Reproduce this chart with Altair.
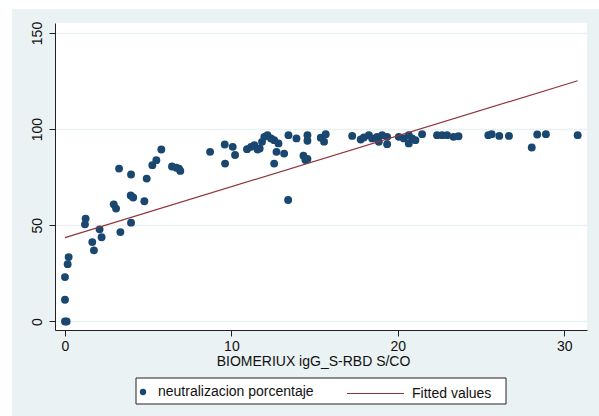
import altair as alt
import pandas as pd

# ---- data ----
x_vals = [0.0, 0.1, 0.0, 0.0, 0.16, 0.22,
          1.24, 1.2, 1.64, 1.74, 2.08, 2.2,
          2.93, 3.07, 3.25, 3.33, 3.97, 3.95, 4.1, 3.97,
          4.77, 4.91, 5.25, 5.49, 5.79,
          6.43, 6.69, 6.93, 6.85,
          8.72, 9.6, 9.62, 10.08, 10.22, 10.94,
          11.18, 11.38, 11.57, 11.7, 11.84, 11.98, 12.17, 12.38, 12.57, 12.83,
          12.71, 13.17, 12.57, 13.43, 13.91, 13.41,
          14.33, 14.57, 14.57, 14.57, 14.45,
          15.37, 15.57, 15.67,
          17.26, 17.77, 17.96, 18.26, 18.46, 18.76, 18.86, 19.06, 19.36, 19.36,
          20.06, 20.36, 20.66, 20.66, 20.86, 21.06, 21.46,
          22.36, 22.66, 22.96, 23.35, 23.65,
          25.44, 25.64, 26.1, 26.68, 28.05, 28.38, 28.9, 30.81]
y_vals = [0, 0, 11.3, 23.1, 29.8, 33.5,
          53.5, 50.5, 41.3, 37.0, 47.9, 43.8,
          60.9, 58.7, 79.5, 46.5, 76.4, 65.5, 64.5, 51.4,
          62.5, 74.3, 81.3, 83.9, 89.4,
          80.6, 80.0, 78.3, 79.5,
          88.2, 92.0, 82.1, 90.8, 86.6, 89.6,
          90.8, 91.7, 89.4, 90.0, 93.4, 96.0, 96.9, 95.2, 94.3, 92.6,
          88.2, 87.3, 82.1, 96.9, 95.2, 63.2,
          86.2, 84.5, 96.9, 94.0, 84.0,
          95.6, 93.5, 97.4,
          96.5, 94.6, 95.7, 96.9, 95.2, 96.0, 93.4, 96.9, 96.0, 92.2,
          96.0, 95.2, 96.9, 92.6, 95.2, 94.3, 97.4,
          96.9, 96.9, 96.9, 96.0, 96.3,
          96.9, 97.4, 96.5, 96.5, 90.5, 97.2, 97.4, 96.9]
fit_x = [0.0, 30.81]
fit_y = [43.6, 125.2]
x_ticks = [0, 10, 20, 30]
y_ticks = [0, 50, 100, 150]
series_pts = "neutralizacion porcentaje"
series_fit = "Fitted values"
x_title = "BIOMERIUX igG_S-RBD S/CO"

pts = pd.DataFrame({"x": x_vals, "y": y_vals, "series": series_pts})
fit = pd.DataFrame({"x": fit_x, "y": fit_y, "series": series_fit})
one = pd.DataFrame({"k": [0]})

W, H = 532, 307
FONT = "Liberation Sans"
BG = "#EAF2F3"
NAVY = "#1a476f"
MAROON = "#90353b"
AX = "#222222"

xs = alt.Scale(domain=[-0.6, 31.37], nice=False, zero=False)
ys = alt.Scale(domain=[-4.42, 155.2], nice=False, zero=False)

x_axis = alt.Axis(values=x_ticks, title=x_title, grid=False, format="d",
                  domainColor=AX, tickColor=AX, tickSize=6, labelFontSize=14,
                  titleFontSize=14, labelFont=FONT, titleFont=FONT,
                  titleFontWeight="normal", labelColor="#111", titleColor="#111",
                  labelPadding=3, titlePadding=1, labelFlush=False,
                  titleX=258, titleAlign="center")
y_axis = alt.Axis(values=y_ticks, title=None, grid=True, gridColor=BG,
                  gridWidth=1.5, gridOpacity=1, format="d",
                  domainColor=AX, tickColor=AX, tickSize=6, labelFontSize=14,
                  labelFont=FONT, labelColor="#111", labelAngle=270,
                  labelAlign="center", labelBaseline="bottom", labelPadding=5,
                  labelFlush=False)

X = alt.X("x:Q", scale=xs, axis=x_axis)
Y = alt.Y("y:Q", scale=ys, axis=y_axis)

# white page margins to the left and above the grey-blue panel
margin_left = alt.Chart(one).mark_rect(fill="white").encode(
    x=alt.value(-55), x2=alt.value(-43), y=alt.value(-23), y2=alt.value(H + 86))
margin_top = alt.Chart(one).mark_rect(fill="white").encode(
    x=alt.value(-55), x2=alt.value(W + 12), y=alt.value(-23), y2=alt.value(-14))

points = alt.Chart(pts).mark_circle(size=62, opacity=1).encode(
    x=X, y=Y,
    color=alt.Color("series:N",
                    scale=alt.Scale(domain=[series_pts], range=[NAVY]),
                    legend=alt.Legend(orient="none", legendX=81, legendY=362,
                                      title=None, symbolType="circle",
                                      symbolSize=40, labelFontSize=14,
                                      labelFont=FONT, labelColor="#111",
                                      labelOffset=8, padding=0)))
line = alt.Chart(fit).mark_line(strokeWidth=1.2).encode(
    x=X, y=Y,
    color=alt.Color("series:N",
                    scale=alt.Scale(domain=[series_fit], range=[MAROON]),
                    legend=alt.Legend(orient="none", legendX=291, legendY=341,
                                      title=None, symbolType="stroke",
                                      symbolSize=3249, symbolStrokeWidth=1.2,
                                      labelFontSize=14, labelFont=FONT,
                                      labelColor="#111", labelOffset=7,
                                      padding=0)))
frame = alt.Chart(one).mark_rect(fill="white", stroke=AX, strokeWidth=1).encode(
    x=alt.value(81), x2=alt.value(451), y=alt.value(355), y2=alt.value(381))

chart = alt.layer(margin_left, margin_top, points, line, frame).resolve_scale(
    color="independent"
).properties(
    width=W, height=H,
    autosize=alt.AutoSizeParams(type="none"),
    padding={"left": 55, "top": 23, "right": 12, "bottom": 86},
    background=BG,
).configure_view(stroke=None, fill="white")

chart.save("out.html", embed_options={"renderer": "svg", "actions": False})
